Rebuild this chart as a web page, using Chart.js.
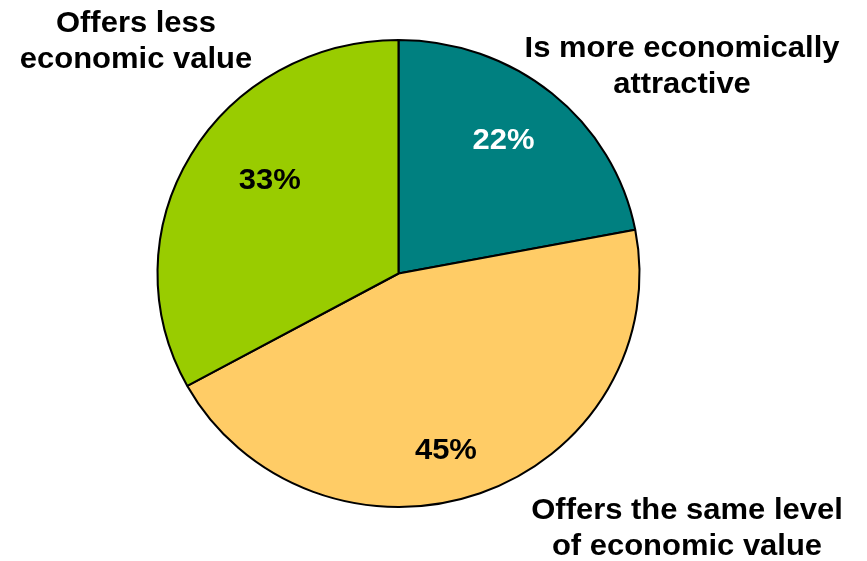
<!DOCTYPE html>
<html>
<head>
<meta charset="utf-8">
<script src="https://cdn.jsdelivr.net/npm/chart.js@4/dist/chart.umd.min.js"></script>
<style>
  html, body { margin: 0; padding: 0; background: #ffffff; }
  #wrap { width: 867px; height: 561px; }
</style>
</head>
<body>
<div id="wrap"><canvas id="c" width="867" height="561"></canvas></div>
<script>
// ---- data ----
const categories = ["Is more economically attractive", "Offers the same level of economic value", "Offers less economic value"];
const values = [22, 45, 33];
const valueLabels = ["22%", "45%", "33%"];
const sliceColors = ["#008080", "#FFCC66", "#99CC00"];
const valueLabelColors = ["#FFFFFF", "#000000", "#000000"];
const categoryLines = [
  ["Is more economically", "attractive"],
  ["Offers the same level", "of economic value"],
  ["Offers less", "economic value"]
];

// ---- presentation ----
const FONT = 'bold 30px "Liberation Sans", Arial, sans-serif';
const STRETCH_X = 241 / 233.5;           // pie (and text) slightly wider than tall
const valueLabelAngleShift = [-2.6, 5.1, 6.7]; // degrees
const valueLabelRadius = [0.724, 0.775, 0.672];
const categoryAnchors = [
  { x: 682, y: 57, dy: 36 },
  { x: 687, y: 519, dy: 36 },
  { x: 136, y: 32, dy: 36 }
];

function stretchedText(ctx, text, x, y) {
  ctx.save();
  ctx.translate(x, y);
  ctx.scale(STRETCH_X, 1);
  ctx.fillText(text, 0, 0);
  ctx.restore();
}

const stretchPlugin = {
  id: 'stretch',
  beforeDatasetsDraw(chart) {
    const a = chart.getDatasetMeta(0).data[0];
    const ctx = chart.ctx;
    ctx.save();
    ctx.translate(a.x, a.y);
    ctx.scale(STRETCH_X, 1);
    ctx.translate(-a.x, -a.y);
  },
  afterDatasetsDraw(chart) {
    chart.ctx.restore();
  }
};

const labelPlugin = {
  id: 'labels',
  afterDraw(chart) {
    const ctx = chart.ctx;
    const meta = chart.getDatasetMeta(0);
    ctx.save();
    ctx.font = FONT;
    ctx.textAlign = 'center';
    ctx.textBaseline = 'middle';
    meta.data.forEach((arc, i) => {
      const mid = (arc.startAngle + arc.endAngle) / 2 + valueLabelAngleShift[i] * Math.PI / 180;
      const r = arc.outerRadius * valueLabelRadius[i];
      const x = arc.x + Math.cos(mid) * r * STRETCH_X;
      const y = arc.y + Math.sin(mid) * r;
      ctx.fillStyle = valueLabelColors[i];
      stretchedText(ctx, valueLabels[i], x, y + 2);
    });
    ctx.textBaseline = 'alphabetic';
    ctx.fillStyle = '#000000';
    categoryLines.forEach((lines, i) => {
      const an = categoryAnchors[i];
      lines.forEach((t, j) => stretchedText(ctx, t, an.x, an.y + j * an.dy));
    });
    ctx.restore();
  }
};

new Chart(document.getElementById('c'), {
  type: 'pie',
  data: {
    labels: categories,
    datasets: [{
      data: values,
      backgroundColor: sliceColors,
      borderColor: '#000000',
      borderWidth: 2,
      borderAlign: 'center'
    }]
  },
  options: {
    responsive: false,
    animation: false,
    layout: { padding: { top: 39, bottom: 53, left: 164, right: 234 } },
    plugins: { legend: { display: false }, tooltip: { enabled: false } }
  },
  plugins: [stretchPlugin, labelPlugin]
});
</script>
</body>
</html>
